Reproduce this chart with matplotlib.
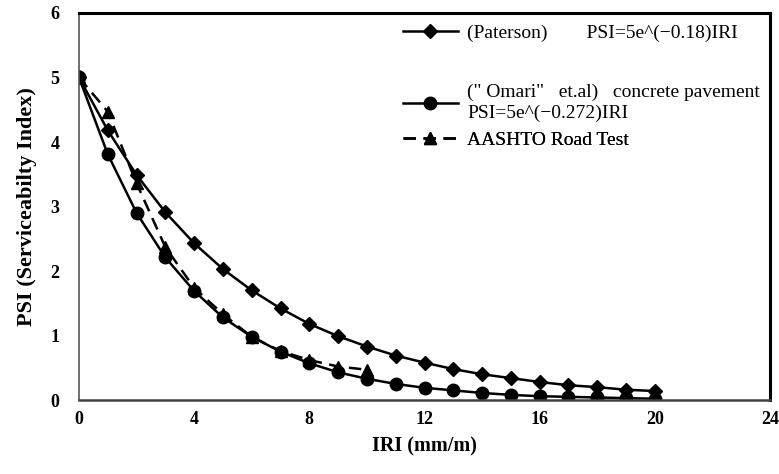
import matplotlib
matplotlib.use('Agg')
import matplotlib.pyplot as plt

# IRI values (mm/m)
iri = list(range(0, 21))
iri_aashto = list(range(0, 11))

# PSI values
psi_paterson = [5.0, 4.18, 3.49, 2.91, 2.43, 2.03, 1.70, 1.42, 1.18, 0.99, 0.83,
                0.69, 0.58, 0.48, 0.40, 0.34, 0.28, 0.23, 0.20, 0.16, 0.14]
psi_omari = [5.0, 3.81, 2.90, 2.21, 1.69, 1.28, 0.98, 0.75, 0.57, 0.43, 0.33,
             0.25, 0.19, 0.15, 0.11, 0.08, 0.06, 0.05, 0.04, 0.03, 0.02]
psi_aashto = [5.0, 4.47, 3.36, 2.37, 1.74, 1.33, 0.98, 0.76, 0.62, 0.52, 0.47]

labels = ['(Paterson)        PSI=5e^(\u22120.18)IRI',
          '(" Omari"   et.al)   concrete pavement\nPSI=5e^(\u22120.272)IRI',
          'AASHTO Road Test']

plt.rcParams['font.family'] = ['Liberation Serif', 'DejaVu Serif']

fig = plt.figure(figsize=(7.79, 4.74), dpi=100)
ax = fig.add_axes([0.1014, 0.156, 0.8871, 0.8166])

l1, = ax.plot(iri, psi_paterson, color='black', lw=1.8, marker='D', ms=7.5)
l2, = ax.plot(iri, psi_omari, color='black', lw=1.8, marker='o', ms=9)
l3, = ax.plot(iri_aashto, psi_aashto, color='black', lw=1.8, marker='^', ms=8,
              linestyle=(0, (5, 3)))

ax.set_xlim(0, 24)
ax.set_ylim(0, 6)
ax.set_xticks(range(0, 25, 4))
ax.set_yticks(range(0, 7))
ax.tick_params(length=0, labelsize=13)
ax.tick_params(axis='y', pad=14)
ax.tick_params(axis='x', pad=8)
for t in ax.get_xticklabels() + ax.get_yticklabels():
    t.set_fontweight('bold')

ax.set_xlabel('IRI (mm/m)', fontsize=14.5, fontweight='bold', labelpad=6)
ax.set_ylabel('PSI (Serviceabilty Index)', fontsize=16, fontweight='bold', labelpad=10)

ax.spines['left'].set_color('#555555')
ax.spines['left'].set_linewidth(1.2)
ax.spines['bottom'].set_color('#444444')
ax.spines['bottom'].set_linewidth(1.8)
ax.spines['top'].set_linewidth(2.2)
ax.spines['right'].set_linewidth(2.2)

# one legend per entry so the uneven spacing can be matched
for h, lab, yy in [(l1, labels[0], 0.948), (l2, labels[1], 0.767), (l3, labels[2], 0.672)]:
    leg = ax.legend([h], [lab], loc='center left', bbox_to_anchor=(0.469, yy),
                    frameon=False, fontsize=14, borderpad=0, borderaxespad=0,
                    handlelength=2.8, handletextpad=0.5)
    for t in leg.get_texts():
        t.set_linespacing(1.3)
    ax.add_artist(leg)

fig.savefig('out.png', dpi=100)
